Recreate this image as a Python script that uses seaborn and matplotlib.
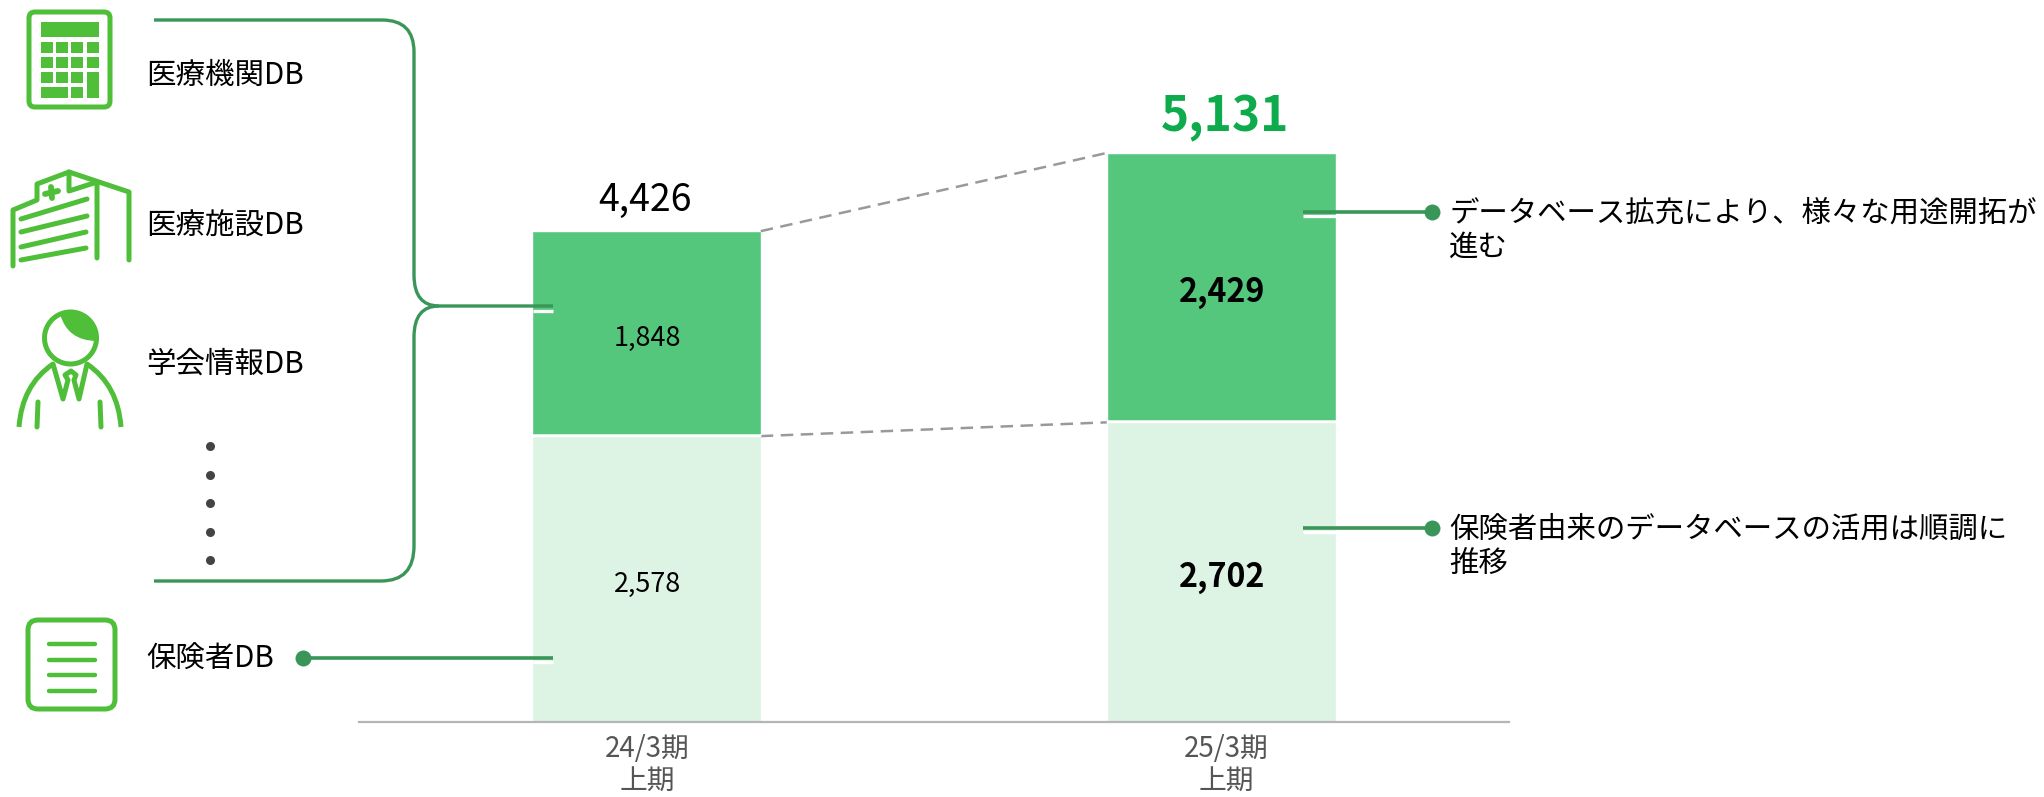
import numpy as np
import matplotlib
matplotlib.use('Agg')
import matplotlib.pyplot as plt
from matplotlib.patches import FancyBboxPatch, PathPatch, Rectangle
from matplotlib.path import Path
from matplotlib.transforms import ScaledTranslation
import seaborn as sns

# data
periods = ['24/3期\n上期', '25/3期\n上期']
insurer_db = [2578, 2702]
other_db = [1848, 2429]
totals = [4426, 5131]

left_labels = ['医療機関DB', '医療施設DB', '学会情報DB']
note_top = 'データベース拡充により、様々な用途開拓が\n進む'
note_bottom = '保険者由来のデータベースの活用は順調に\n推移'

DARK = '#54C77C'
LIGHT = '#DDF3E4'
LEADER = '#3A9658'
ICON = '#4FBE39'
HIGHLIGHT = '#0DAB4B'

sns.set_theme(style='white')
plt.rcParams['font.family'] = ['Noto Sans CJK JP', 'DejaVu Sans']

W, H = 2044, 797
AXIS_Y = 722
fig = plt.figure(figsize=(W / 100, H / 100), dpi=100)
ax = fig.add_axes([359 / W, (H - AXIS_Y) / H, (1508.5 - 359) / W, AXIS_Y / H])

# stacked bars: total behind, insurer part on top of it
bar_w = 0.398
sns.barplot(x=periods, y=totals, color=DARK, saturation=1, width=bar_w, ax=ax)
sns.barplot(x=periods, y=insurer_db, color=LIGHT, saturation=1, width=bar_w, ax=ax)
ax.set_xlim(-0.5, 1.5)
ax.set_ylim(0, AXIS_Y / 0.1109)
ax.set_yticks([])
sns.despine(ax=ax, left=True)
ax.spines['bottom'].set_color('#B5B5B5')
ax.spines['bottom'].set_linewidth(1.6)
ax.tick_params(axis='x', length=0, pad=9, labelsize=20, labelcolor='#555555')
for lab, dx in zip(ax.get_xticklabels(), [1, 5]):
    lab.set_linespacing(1.08)
    lab.set_transform(lab.get_transform() + ScaledTranslation(dx / 100, 0, fig.dpi_scale_trans))

# white gap between the two parts
for i in range(2):
    ax.hlines(insurer_db[i] + 8, i - bar_w / 2, i + bar_w / 2, color='white', lw=1.8, zorder=5)

# dashed connectors
edge = [bar_w / 2, 1 - bar_w / 2]
ax.plot(edge, totals, color='#999999', lw=1.8, dashes=(5, 3))
ax.plot(edge, insurer_db, color='#999999', lw=1.8, dashes=(5, 3))

# value labels
for i in range(2):
    bold = i == 1
    fs = 23.2 if bold else 19.4
    w = 'bold' if bold else 'normal'
    ax.annotate(f'{insurer_db[i]:,}', (i, insurer_db[i] / 2), xytext=(1, -5), textcoords='offset pixels',
                ha='center', va='center', fontsize=fs, fontweight=w, color='black')
    ax.annotate(f'{other_db[i]:,}', (i, insurer_db[i] + other_db[i] / 2), xytext=(1, -5), textcoords='offset pixels',
                ha='center', va='center', fontsize=fs, fontweight=w, color='black')
ax.annotate(f'{totals[0]:,}', (0, totals[0]), xytext=(-1, 31), textcoords='offset pixels',
            ha='center', va='center', fontsize=27, color='black')
ax.annotate(f'{totals[1]:,}', (1, totals[1]), xytext=(4, 35), textcoords='offset pixels',
            ha='center', va='center', fontsize=34.5, fontweight='bold', color=HIGHLIGHT)

# overlay in pixel coordinates for the icons, brackets and leaders
ov = fig.add_axes([0, 0, 1, 1], zorder=10)
ov.set_xlim(0, W)
ov.set_ylim(H, 0)
ov.axis('off')
ov.patch.set_alpha(0)


def stroke(pts, color=ICON, lw=3.6):
    xs, ys = zip(*pts)
    ov.plot(xs, ys, color=color, lw=lw, solid_capstyle='round', solid_joinstyle='round')


def box(x0, y0, x1, y1):
    ov.add_patch(Rectangle((x0, y0), x1 - x0, y1 - y0, color=ICON, lw=0))


def curve(verts, codes, color=LEADER, lw=2.4):
    ov.add_patch(PathPatch(Path(verts, codes), fc='none', ec=color, lw=lw))


# calculator icon
ov.add_patch(FancyBboxPatch((29, 12), 81, 95, boxstyle='round,pad=0,rounding_size=6', fc='none', ec=ICON, lw=3.6))
box(41, 22, 99, 37)
col_x = [(41, 53), (56, 68), (71, 83), (87, 99)]
row_y = [(42, 53), (57, 68), (72, 83)]
for r, (y0, y1) in enumerate(row_y):
    for c, (x0, x1) in enumerate(col_x):
        if not (r == 2 and c == 3):
            box(x0, y0, x1, y1)
box(41, 87, 68, 98)
box(71, 87, 83, 98)
box(87, 72, 99, 98)

# hospital icon
stroke([(13, 266), (13, 210), (37, 200), (37, 184), (69, 172), (129, 192), (129, 260)])
stroke([(69, 172), (69, 191), (97, 182), (97, 258)])
for y0, y1, x1 in [(219, 199, 87), (232, 216, 87), (247, 232, 86), (260, 248, 86)]:
    stroke([(21, y0), (x1, y1)])
stroke([(45, 194), (58, 191)], lw=4.2)
stroke([(51, 187), (52, 198)], lw=4.2)

# person icon
t = np.linspace(0, 2 * np.pi, 80)
cx, cy, r = 70.5, 338, 26
ov.plot(cx + r * np.cos(t), cy + r * np.sin(t), color=ICON, lw=3.6)
a = np.deg2rad(np.linspace(112, -5, 30))
hair = [(cx + r * np.cos(v), cy - r * np.sin(v)) for v in a]
codes = [Path.MOVETO] + [Path.LINETO] * (len(hair) - 1) + [Path.CURVE3, Path.CURVE3, Path.CLOSEPOLY]
hair_verts = hair + [(68, 340), hair[0], hair[0]]
ov.add_patch(PathPatch(Path(hair_verts, codes), fc=ICON, ec=ICON, lw=1))
curve([(19, 427), (22, 385), (53, 364)], [Path.MOVETO, Path.CURVE3, Path.CURVE3], color=ICON, lw=3.6)
curve([(121, 427), (118, 385), (87, 364)], [Path.MOVETO, Path.CURVE3, Path.CURVE3], color=ICON, lw=3.6)
stroke([(53, 364), (63, 399), (68, 380), (65, 375), (71, 371), (76, 375), (74, 380), (79, 399), (87, 364)])
stroke([(38, 402), (37, 427)])
stroke([(100, 402), (101, 427)])

# document icon
ov.add_patch(FancyBboxPatch((28, 620), 87, 89, boxstyle='round,pad=0,rounding_size=10', fc='none', ec=ICON, lw=3.6))
for y in [644, 660, 675, 691]:
    stroke([(49, y), (95, y)], lw=3.2)

# left labels
for y, s in zip([75, 226, 364], left_labels):
    ov.text(146, y, s, fontsize=21.25, va='center', ha='left', color='black')
ov.text(146.5, 659, '保険者DB', fontsize=21.2, va='center', ha='left', color='black')

# vertical dots
for y in [446, 475, 503, 532, 560]:
    ov.plot(210, y, 'o', color='#444444', ms=6.5, mew=0)

# bracket
M, L, Q = Path.MOVETO, Path.LINETO, Path.CURVE3
curve([(154, 20), (382, 20), (414, 20), (414, 52), (414, 275), (414, 306), (439, 306), (553, 306)],
      [M, L, Q, Q, L, Q, Q, L])
curve([(439, 306), (414, 306), (414, 337), (414, 546), (414, 581), (381, 581), (154, 581)],
      [M, Q, Q, L, Q, Q, L])

# white shadows under the leader ends
for x0, x1, y in [(533, 553, 310.5), (533, 553, 662), (1303, 1336, 216), (1303, 1336, 532)]:
    ov.plot([x0, x1], [y, y], color='white', lw=2.4, solid_capstyle='butt')

# leaders with end dots
for x0, x1, y in [(303, 553, 658), (1303, 1432, 212), (1303, 1432, 528)]:
    ov.plot([x0, x1], [y, y], color=LEADER, lw=2.6, solid_capstyle='butt')
for x, y in [(303, 658), (1432, 212), (1432, 528)]:
    ov.plot(x, y, 'o', color=LEADER, ms=11.5, mew=0)

# notes on the right
ov.text(1449, 230, note_top, fontsize=21.2, va='center', ha='left', color='black', linespacing=1.13)
ov.text(1449, 546, note_bottom, fontsize=21.2, va='center', ha='left', color='black', linespacing=1.13)

fig.savefig('out.png', dpi=100, facecolor='white')
